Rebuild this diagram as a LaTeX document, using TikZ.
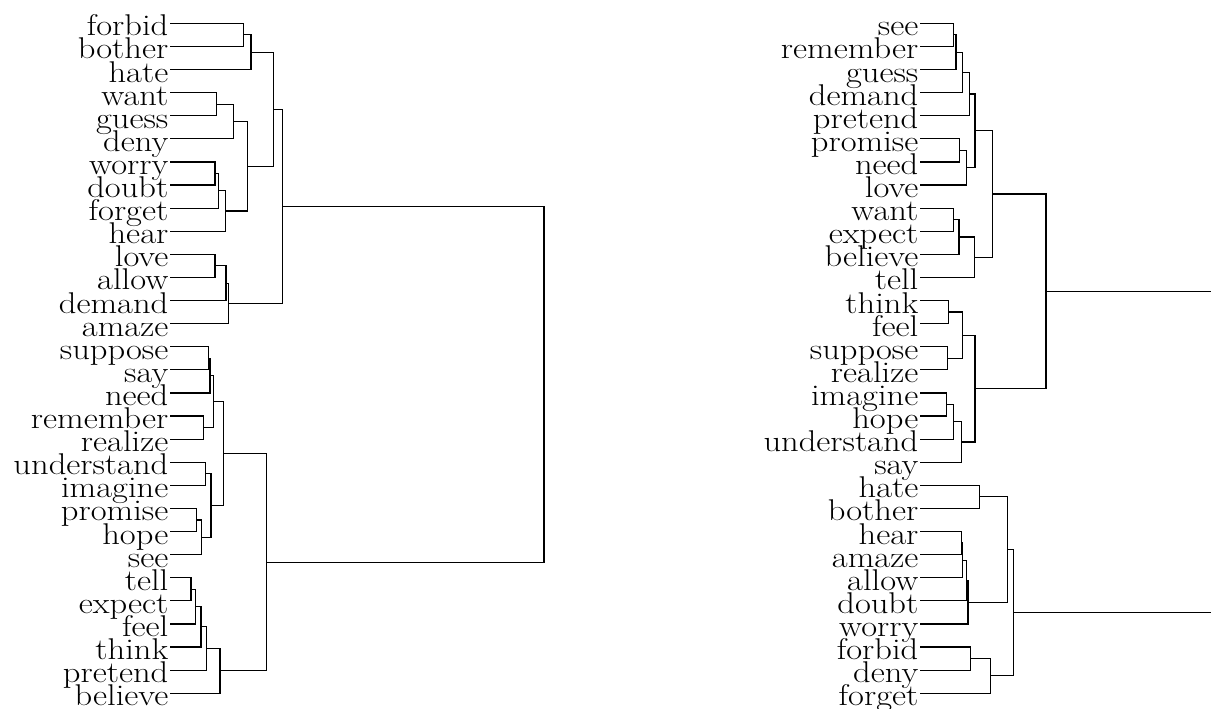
\documentclass[tikz,border=0pt]{standalone}
\usetikzlibrary{calc}
\tikzset{
  branch/.style={line width=1.2pt, black},
  lab/.style={anchor=base east, inner sep=0pt, font=\fontsize{30}{30}\selectfont}
}
% leaf: #1 name, #2 x of line start, #3 y, #4 text
\newcommand\leaf[4]{%
  \coordinate (#1) at (#2,#3);
  \node[lab] (t#1) at ([xshift=-1.5pt,yshift=-12.5pt]#1) {\scalebox{1.15}[1]{#4}};}
% merge: #1 name, #2 child A, #3 child B, #4 x
\newcommand\mrg[4]{%
  \path let \p1=(#2), \p2=(#3) in coordinate (#1) at (#4pt,{(\y1+\y2)/2});
  \draw[branch] (#2) -| (#1) |- (#3);}
\begin{document}
\begin{tikzpicture}[x=1pt,y=-1pt]
\useasboundingbox (0,0) rectangle (1211,709);
\coordinate (edge) at (1211,0);
% ---------- left dendrogram ----------
\leaf{Lforbid}{170}{23.3}{forbid}
\leaf{Lbother}{170}{46.4}{bother}
\leaf{Lhate}{170}{69.5}{hate}
\leaf{Lwant}{170}{92.6}{want}
\leaf{Lguess}{170}{115.7}{guess}
\leaf{Ldeny}{170}{138.8}{deny}
\leaf{Lworry}{170}{161.9}{worry}
\leaf{Ldoubt}{170}{185.0}{doubt}
\leaf{Lforget}{170}{208.1}{forget}
\leaf{Lhear}{170}{231.2}{hear}
\leaf{Llove}{170}{254.3}{love}
\leaf{Lallow}{170}{277.4}{allow}
\leaf{Ldemand}{170}{300.5}{demand}
\leaf{Lamaze}{170}{323.6}{amaze}
\leaf{Lsuppose}{170}{346.7}{suppose}
\leaf{Lsay}{170}{369.8}{say}
\leaf{Lneed}{170}{392.9}{need}
\leaf{Lremember}{170}{416.0}{remember}
\leaf{Lrealize}{170}{439.1}{realize}
\leaf{Lunderstand}{170}{462.2}{understand}
\leaf{Limagine}{170}{485.3}{imagine}
\leaf{Lpromise}{170}{508.4}{promise}
\leaf{Lhope}{170}{531.5}{hope}
\leaf{Lsee}{170}{554.6}{see}
\leaf{Ltell}{170}{577.7}{tell}
\leaf{Lexpect}{170}{600.8}{expect}
\leaf{Lfeel}{170}{623.9}{feel}
\leaf{Lthink}{170}{647.0}{think}
\leaf{Lpretend}{170}{670.1}{pretend}
\leaf{Lbelieve}{170}{693.2}{believe}
\mrg{m1}{Lforbid}{Lbother}{243.3}
\mrg{m2}{m1}{Lhate}{251}
\mrg{m3}{Lwant}{Lguess}{216.7}
\mrg{m4}{m3}{Ldeny}{233.3}
\mrg{m5}{Lworry}{Ldoubt}{215}
\mrg{m6}{m5}{Lforget}{218.3}
\mrg{m7}{m6}{Lhear}{225.7}
\mrg{m8}{m4}{m7}{247.3}
\mrg{m9}{m2}{m8}{273.3}
\mrg{m10}{Llove}{Lallow}{215}
\mrg{m11}{m10}{Ldemand}{226}
\mrg{m12}{m11}{Lamaze}{228.3}
\mrg{m13}{m9}{m12}{282.7}
\mrg{n1}{Lsuppose}{Lsay}{208.3}
\mrg{n2}{n1}{Lneed}{210}
\mrg{n3}{Lremember}{Lrealize}{203.3}
\mrg{n4}{n2}{n3}{213.3}
\mrg{n5}{Lunderstand}{Limagine}{205.7}
\mrg{n6}{Lpromise}{Lhope}{196.7}
\mrg{n7}{n6}{Lsee}{201.7}
\mrg{n8}{n5}{n7}{211}
\mrg{n9}{n4}{n8}{223.3}
\mrg{n10}{Ltell}{Lexpect}{191}
\mrg{n11}{n10}{Lfeel}{195.7}
\mrg{n12}{n11}{Lthink}{201}
\mrg{n13}{n12}{Lpretend}{206.7}
\mrg{n14}{n13}{Lbelieve}{220}
\mrg{n15}{n9}{n14}{266.7}
\mrg{Lroot}{m13}{n15}{544}
% ---------- right dendrogram ----------
\leaf{Rsee}{920}{23.3}{see}
\leaf{Rremember}{920}{46.4}{remember}
\leaf{Rguess}{920}{69.5}{guess}
\leaf{Rdemand}{920}{92.6}{demand}
\leaf{Rpretend}{920}{115.7}{pretend}
\leaf{Rpromise}{920}{138.8}{promise}
\leaf{Rneed}{920}{161.9}{need}
\leaf{Rlove}{920}{185.0}{love}
\leaf{Rwant}{920}{208.1}{want}
\leaf{Rexpect}{920}{231.2}{expect}
\leaf{Rbelieve}{920}{254.3}{believe}
\leaf{Rtell}{920}{277.4}{tell}
\leaf{Rthink}{920}{300.5}{think}
\leaf{Rfeel}{920}{323.6}{feel}
\leaf{Rsuppose}{920}{346.7}{suppose}
\leaf{Rrealize}{920}{369.8}{realize}
\leaf{Rimagine}{920}{392.9}{imagine}
\leaf{Rhope}{920}{416.0}{hope}
\leaf{Runderstand}{920}{439.1}{understand}
\leaf{Rsay}{920}{462.2}{say}
\leaf{Rhate}{920}{485.3}{hate}
\leaf{Rbother}{920}{508.4}{bother}
\leaf{Rhear}{920}{531.5}{hear}
\leaf{Ramaze}{920}{554.6}{amaze}
\leaf{Rallow}{920}{577.7}{allow}
\leaf{Rdoubt}{920}{600.8}{doubt}
\leaf{Rworry}{920}{623.9}{worry}
\leaf{Rforbid}{920}{647.0}{forbid}
\leaf{Rdeny}{920}{670.1}{deny}
\leaf{Rforget}{920}{693.2}{forget}
\mrg{r1}{Rsee}{Rremember}{953.3}
\mrg{r2}{r1}{Rguess}{956}
\mrg{r3}{r2}{Rdemand}{962.7}
\mrg{r4}{r3}{Rpretend}{969.3}
\mrg{r5}{Rpromise}{Rneed}{959.3}
\mrg{r6}{r5}{Rlove}{966.7}
\mrg{r7}{r4}{r6}{975}
\mrg{r8}{Rwant}{Rexpect}{953.3}
\mrg{r9}{r8}{Rbelieve}{959}
\mrg{r10}{r9}{Rtell}{974.3}
\mrg{r11}{r7}{r10}{992.7}
\mrg{r12}{Rthink}{Rfeel}{948.3}
\mrg{r13}{Rsuppose}{Rrealize}{947.3}
\mrg{r14}{r12}{r13}{962.7}
\mrg{r15}{Rimagine}{Rhope}{946.7}
\mrg{r16}{r15}{Runderstand}{953.3}
\mrg{r17}{r16}{Rsay}{961.7}
\mrg{r18}{r14}{r17}{975}
\mrg{r19}{r11}{r18}{1046}
\mrg{s1}{Rhate}{Rbother}{979.3}
\mrg{s2}{Rhear}{Ramaze}{961.7}
\mrg{s3}{s2}{Rallow}{962.7}
\mrg{s4}{s3}{Rdoubt}{966.7}
\mrg{s5}{s4}{Rworry}{968}
\mrg{s6}{s1}{s5}{1007.7}
\mrg{s7}{Rforbid}{Rdeny}{970.7}
\mrg{s8}{s7}{Rforget}{990.7}
\mrg{s9}{s6}{s8}{1013.3}
\draw[branch] (r19) -- (r19 -| edge);
\draw[branch] (s9) -- (s9 -| edge);
\end{tikzpicture}
\end{document}
